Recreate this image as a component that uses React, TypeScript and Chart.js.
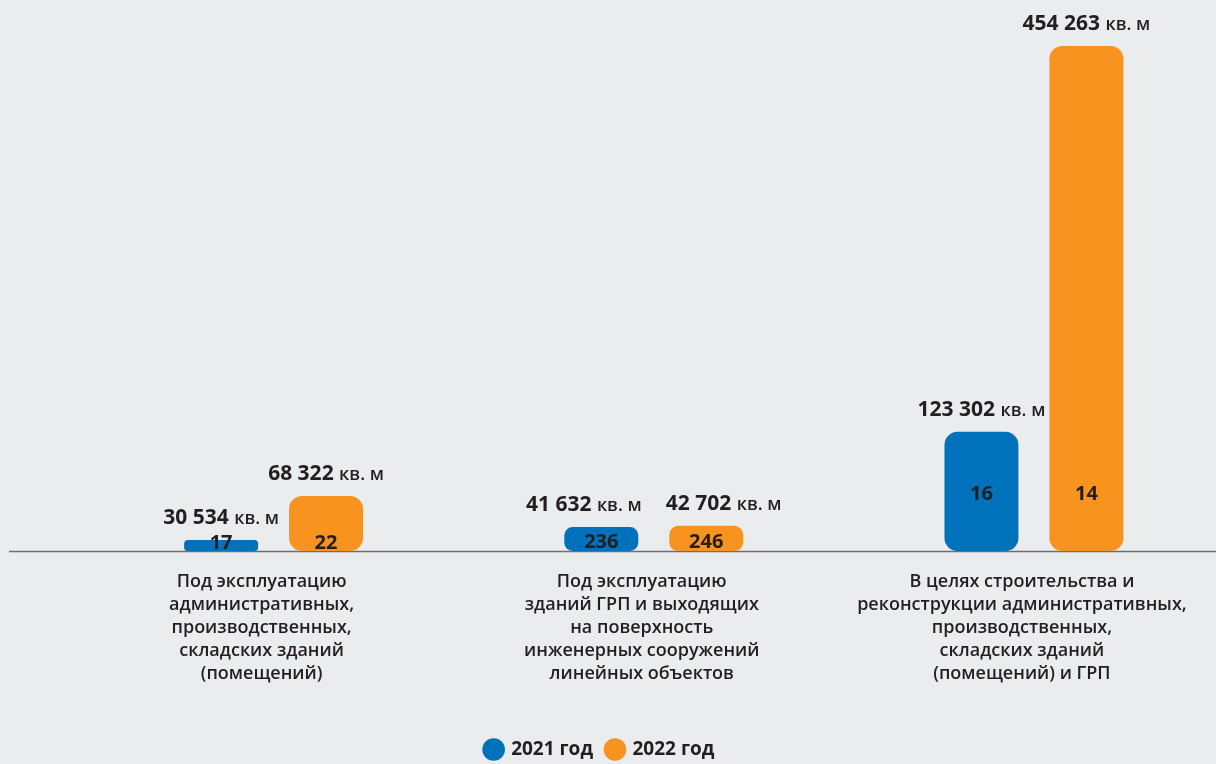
import { useEffect, useRef } from 'react';
import { Chart, registerables } from 'chart.js';

Chart.register(...registerables);

// ---- data ----
const categories: string[][] = [
  ['Под эксплуатацию', 'административных,', 'производственных,', 'складских зданий', '(помещений)'],
  ['Под эксплуатацию', 'зданий ГРП и выходящих', 'на поверхность', 'инженерных сооружений', 'линейных объектов'],
  ['В целях строительства и', 'реконструкции административных,', 'производственных,', 'складских зданий', '(помещений) и ГРП'],
];
const seriesLabels = ['2021 год', '2022 год'];
const area2021 = [30534, 41632, 123302];
const area2022 = [68322, 42702, 454263];
const count2021 = [17, 236, 16];
const count2022 = [22, 246, 14];
const unitLabel = 'кв. м';
const axisMin = 21100;
const axisMax = 454263;

// ---- styles ----
const BG = '#ebecee';
const BLUE = '#0072bc';
const ORANGE = '#f7931e';
const TEXT = '#231f20';
const FONT = "'Open Sans', 'DejaVu Sans', sans-serif";
const CANVAS_W = 1248;
const CANVAS_H = 769;
const SHIFT = 24;

const fmt = (v: number) => String(v).replace(/\B(?=(\d{3})+(?!\d))/g, ' ');

const radiusFor = (ctx: any) => {
  const y = ctx.chart.scales?.y;
  const v = ctx.raw;
  if (!y || typeof v !== 'number') return 13;
  const h = Math.abs(y.getPixelForValue(axisMin) - y.getPixelForValue(v));
  return Math.min(13, h * 0.35);
};

const barLabels = {
  id: 'barLabels',
  beforeDatasetsDraw(chart: any) {
    const { ctx, chartArea } = chart;
    ctx.save();
    ctx.strokeStyle = '#6d6e71';
    ctx.lineWidth = 1.5;
    ctx.beginPath();
    ctx.moveTo(SHIFT + 9, chartArea.bottom + 0.5);
    ctx.lineTo(chart.width, chartArea.bottom + 0.5);
    ctx.stroke();
    ctx.restore();
  },
  afterDatasetsDraw(chart: any) {
    const { ctx, chartArea } = chart;
    const metas = [chart.getDatasetMeta(0), chart.getDatasetMeta(1)];
    const counts = [count2021, count2022];
    const base = chartArea.bottom;
    ctx.save();
    ctx.fillStyle = TEXT;
    for (let i = 0; i < categories.length; i++) {
      const bars = metas.map((m: any) => m.data[i]);
      const items = bars.map((b: any, k: number) => {
        const num = fmt(chart.data.datasets[k].data[i] as number) + ' ';
        ctx.font = `700 21px ${FONT}`;
        const wn = ctx.measureText(num).width;
        ctx.font = `600 18px ${FONT}`;
        const wu = ctx.measureText(unitLabel).width;
        return { x: b.x, y: b.y - 16, wn, wu, num, w: wn + wu };
      });
      const [a, c] = items;
      if (Math.abs(a.y - c.y) < 22) {
        const need = a.w / 2 + c.w / 2 + 24 - (c.x - a.x);
        if (need > 0) {
          a.x -= need / 2;
          c.x += need / 2;
        }
      }
      ctx.textBaseline = 'alphabetic';
      ctx.textAlign = 'left';
      items.forEach((it: any) => {
        const left = it.x - it.w / 2;
        ctx.font = `700 21px ${FONT}`;
        ctx.fillText(it.num, left, it.y);
        ctx.font = `600 18px ${FONT}`;
        ctx.fillText(unitLabel, left + it.wn, it.y);
      });
      const shorterCenter = Math.max(...bars.map((b: any) => (b.y + base) / 2));
      const cy = Math.min(shorterCenter + 3, base - 8);
      ctx.textAlign = 'center';
      ctx.textBaseline = 'middle';
      ctx.font = `700 20px ${FONT}`;
      bars.forEach((b: any, k: number) => {
        ctx.fillText(String(counts[k][i]), b.x, cy);
      });
    }
    ctx.restore();
  },
};

export default function App() {
  const ref = useRef<HTMLCanvasElement | null>(null);
  useEffect(() => {
    if (!ref.current) return;
    const chart = new Chart(ref.current, {
      type: 'bar',
      data: {
        labels: categories,
        datasets: [
          {
            label: seriesLabels[0],
            data: area2021,
            base: axisMin,
            backgroundColor: BLUE,
            borderRadius: radiusFor,
            borderSkipped: false,
            categoryPercentage: 0.552,
            barPercentage: 0.705,
          },
          {
            label: seriesLabels[1],
            data: area2022,
            base: axisMin,
            backgroundColor: ORANGE,
            borderRadius: radiusFor,
            borderSkipped: false,
            categoryPercentage: 0.552,
            barPercentage: 0.705,
          },
        ],
      },
      options: {
        responsive: false,
        animation: false,
        layout: { padding: { top: 46, right: 0, bottom: 0, left: 0 } },
        scales: {
          x: {
            grid: { display: false, drawTicks: false },
            border: { display: false },
            ticks: {
              color: TEXT,
              font: { family: FONT, size: 18, weight: '600', lineHeight: '23px' },
              padding: 19,
              maxRotation: 0,
              minRotation: 0,
              autoSkip: false,
              labelOffset: -12,
            },
            afterFit: (s: any) => {
              s.height = 175;
            },
          },
          y: {
            min: axisMin,
            max: axisMax,
            grid: { display: false },
            border: { display: false },
            ticks: { display: false },
            afterFit: (s: any) => {
              s.width = 107.5;
            },
          },
        },
        plugins: {
          legend: {
            position: 'bottom',
            labels: {
              usePointStyle: true,
              pointStyle: 'circle',
              boxWidth: 16,
              boxHeight: 16,
              padding: 14,
              color: TEXT,
              font: { family: FONT, size: 19, weight: '700' },
            },
          },
          tooltip: { enabled: false },
        },
      },
      plugins: [barLabels],
    } as any);
    return () => chart.destroy();
  }, []);

  return (
    <div
      style={{
        position: 'absolute',
        left: 0,
        top: 0,
        width: 1216,
        height: 764,
        overflow: 'hidden',
        background: BG,
      }}
    >
      <canvas
        ref={ref}
        width={CANVAS_W}
        height={CANVAS_H}
        style={{ position: 'absolute', left: -SHIFT, top: 0 }}
      />
    </div>
  );
}
